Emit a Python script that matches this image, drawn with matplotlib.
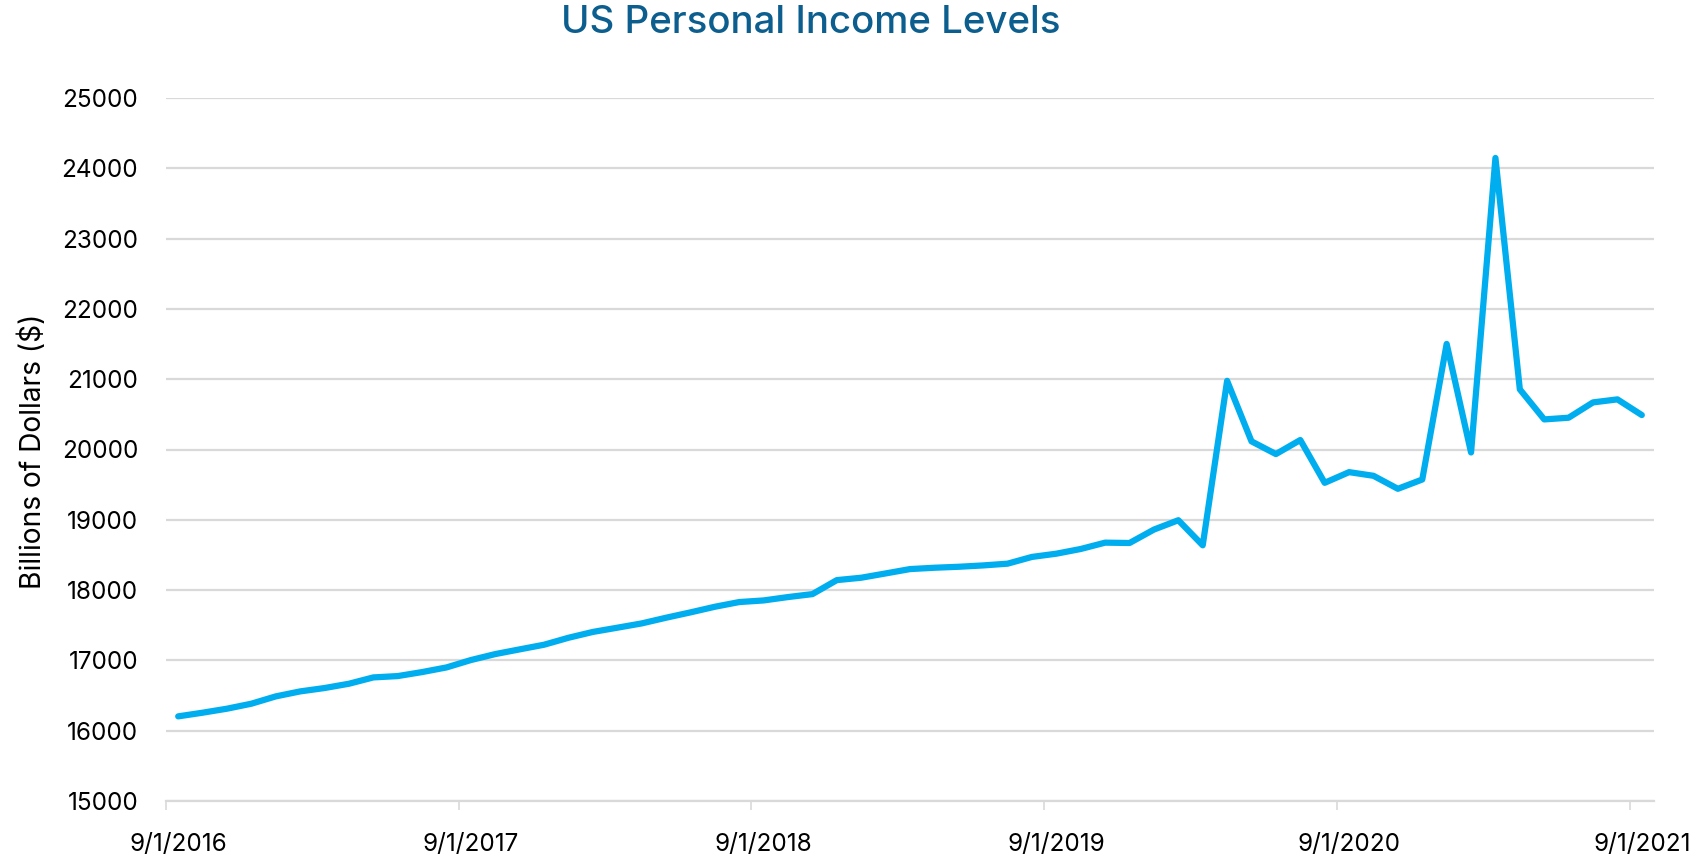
import matplotlib
matplotlib.use("Agg")
import matplotlib.pyplot as plt
import numpy as np

# Monthly personal income, billions of dollars, Sep 2016 - Sep 2021
income = [
    16204, 16256, 16313, 16384, 16488, 16559, 16607, 16668, 16758, 16777,
    16834, 16900, 17005, 17090, 17157, 17223, 17322, 17405, 17465, 17526,
    17607, 17683, 17763, 17830, 17853, 17901, 17943, 18142, 18176, 18237,
    18299, 18318, 18332, 18351, 18376, 18472, 18518, 18585, 18675, 18670,
    18861, 18994, 18637, 20977, 20116, 19935, 20135, 19526, 19678, 19626,
    19441, 19573, 21502, 19958, 24147, 20856, 20428, 20452, 20670, 20713,
    20490,
]
tick_labels = ["9/1/2016", "9/1/2017", "9/1/2018", "9/1/2019", "9/1/2020", "9/1/2021"]
y_ticks = [15000, 16000, 17000, 18000, 19000, 20000, 21000, 22000, 23000, 24000, 25000]

plt.rcParams["font.family"] = ["Inter", "DejaVu Sans"]

fig = plt.figure(figsize=(17.05, 8.56), dpi=100)
ax = fig.add_axes([166 / 1705, 1 - 801 / 856, (1654 - 166) / 1705, (801 - 98) / 856])

# Category axis: each month sits in the middle of its slot
n = len(income)
x = np.arange(n) + 0.5
ax.plot(x, income, color="#00AEEF", lw=4.5, solid_capstyle="round",
        solid_joinstyle="round", zorder=3)

ax.set_xlim(0, n)
ax.set_ylim(15000, 25000)
ax.set_yticks(y_ticks)
ax.set_yticklabels([str(v) for v in y_ticks])

# Tick marks on the year boundaries, labels centred on the September slot
year_starts = np.arange(0, n, 12)
ax.set_xticks(year_starts)
ax.set_xticklabels([])
ax.set_xticks(year_starts + 0.5, minor=True)
ax.set_xticklabels(tick_labels, minor=True)

ax.grid(axis="y", color="#d9d9d9", lw=1.6, zorder=0)
for s in ["top", "right", "left"]:
    ax.spines[s].set_visible(False)
ax.spines["bottom"].set_color("#d9d9d9")
ax.spines["bottom"].set_linewidth(1.6)

ax.tick_params(axis="y", length=0, pad=20, labelsize=17.5, labelcolor="black")
ax.tick_params(axis="x", which="major", length=6.5, width=1.2, color="#d9d9d9")
ax.tick_params(axis="x", which="minor", length=0, pad=23, labelsize=17.5,
               labelcolor="black")

fig.text(33 / 1705, 1 - 451 / 856, "Billions of Dollars ($)", rotation=90,
         ha="center", va="center", fontsize=20.3, color="black")
fig.text(811 / 1705, 1 - 23 / 856, "US Personal Income Levels", ha="center",
         va="center", fontsize=27.7, fontweight="medium", color="#0B5E8E")

fig.savefig("out.png", dpi=100)
